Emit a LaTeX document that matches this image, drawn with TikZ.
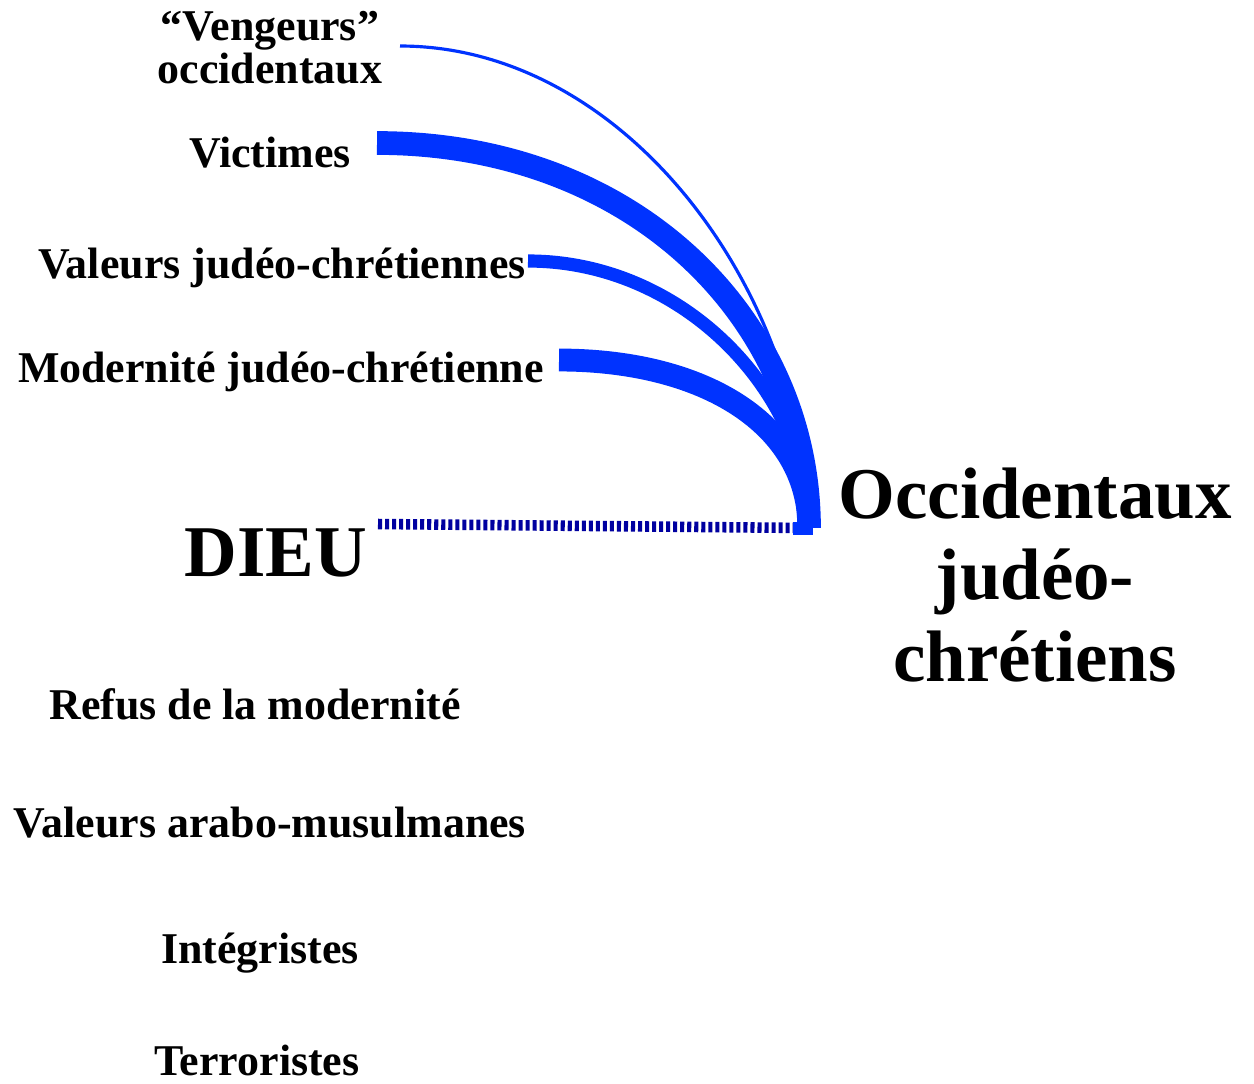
\documentclass[tikz,border=0pt]{standalone}
\usepackage{fontspec}
\setmainfont{Liberation Serif}
\definecolor{linkblue}{RGB}{0,51,255}
\definecolor{darkblue}{RGB}{0,0,160}
\tikzset{
  lbl/.style={font=\fontsize{25}{24.5}\selectfont\bfseries, inner sep=0pt, align=center},
  big/.style={font=\fontsize{41.5}{46.5}\selectfont\bfseries, inner sep=0pt, align=center},
  link/.style={draw=linkblue, line cap=butt},
  godlink/.style={draw=darkblue, line width=6pt, dash pattern=on 2.3pt off 1.7pt}
}
\begin{document}
\begin{tikzpicture}[x=0.02cm, y=-0.02cm]
\useasboundingbox (0,0) rectangle (1254,1083);
% labels
\node[lbl, anchor=center] (veng) at (270,48) {“Vengeurs”\\occidentaux};
\node[lbl] (vict) at (270,153) {Victimes};
\node[lbl] (valj) at (282,268) {Valeurs judéo-chrétiennes};
\node[lbl] (modj) at (281,372) {Modernité judéo-chrétienne};
\node[big] (dieu) at (276,553) {DIEU};
\node[big] (occ) at (1035,575) {Occidentaux\\judéo-\\chrétiens};
\node[lbl] (refus) at (255,704) {Refus de la modernité};
\node[lbl] (valam) at (270,823) {Valeurs arabo-musulmanes};
\node[lbl] (integ) at (260,953) {Intégristes};
\node[lbl] (terro) at (257,1060) {Terroristes};
% anchor points of connectors
\coordinate (s1) at (400,46);
\coordinate (s2) at (377,143);
\coordinate (s3) at (528,261);
\coordinate (s4) at (559,360);
\coordinate (t) at (809,528);
\coordinate (g) at (378,524);
% dotted link from DIEU
\draw[godlink] (g) -- (t);
% connectors
\draw[link, line width=1.8pt] (s1) .. controls (625,46) and (805,290) .. (t);
\draw[link, line width=13.5pt] (s2) .. controls (635,143) and (809,320) .. (t);
\draw[link, line width=7.5pt] (s3) .. controls (685,261) and (809,395) .. (t);
\draw[link, line width=13pt] (s4) .. controls (705,360) and (809,425) .. (t);
\fill[linkblue] (793,522) rectangle (813,535);
\end{tikzpicture}
\end{document}
